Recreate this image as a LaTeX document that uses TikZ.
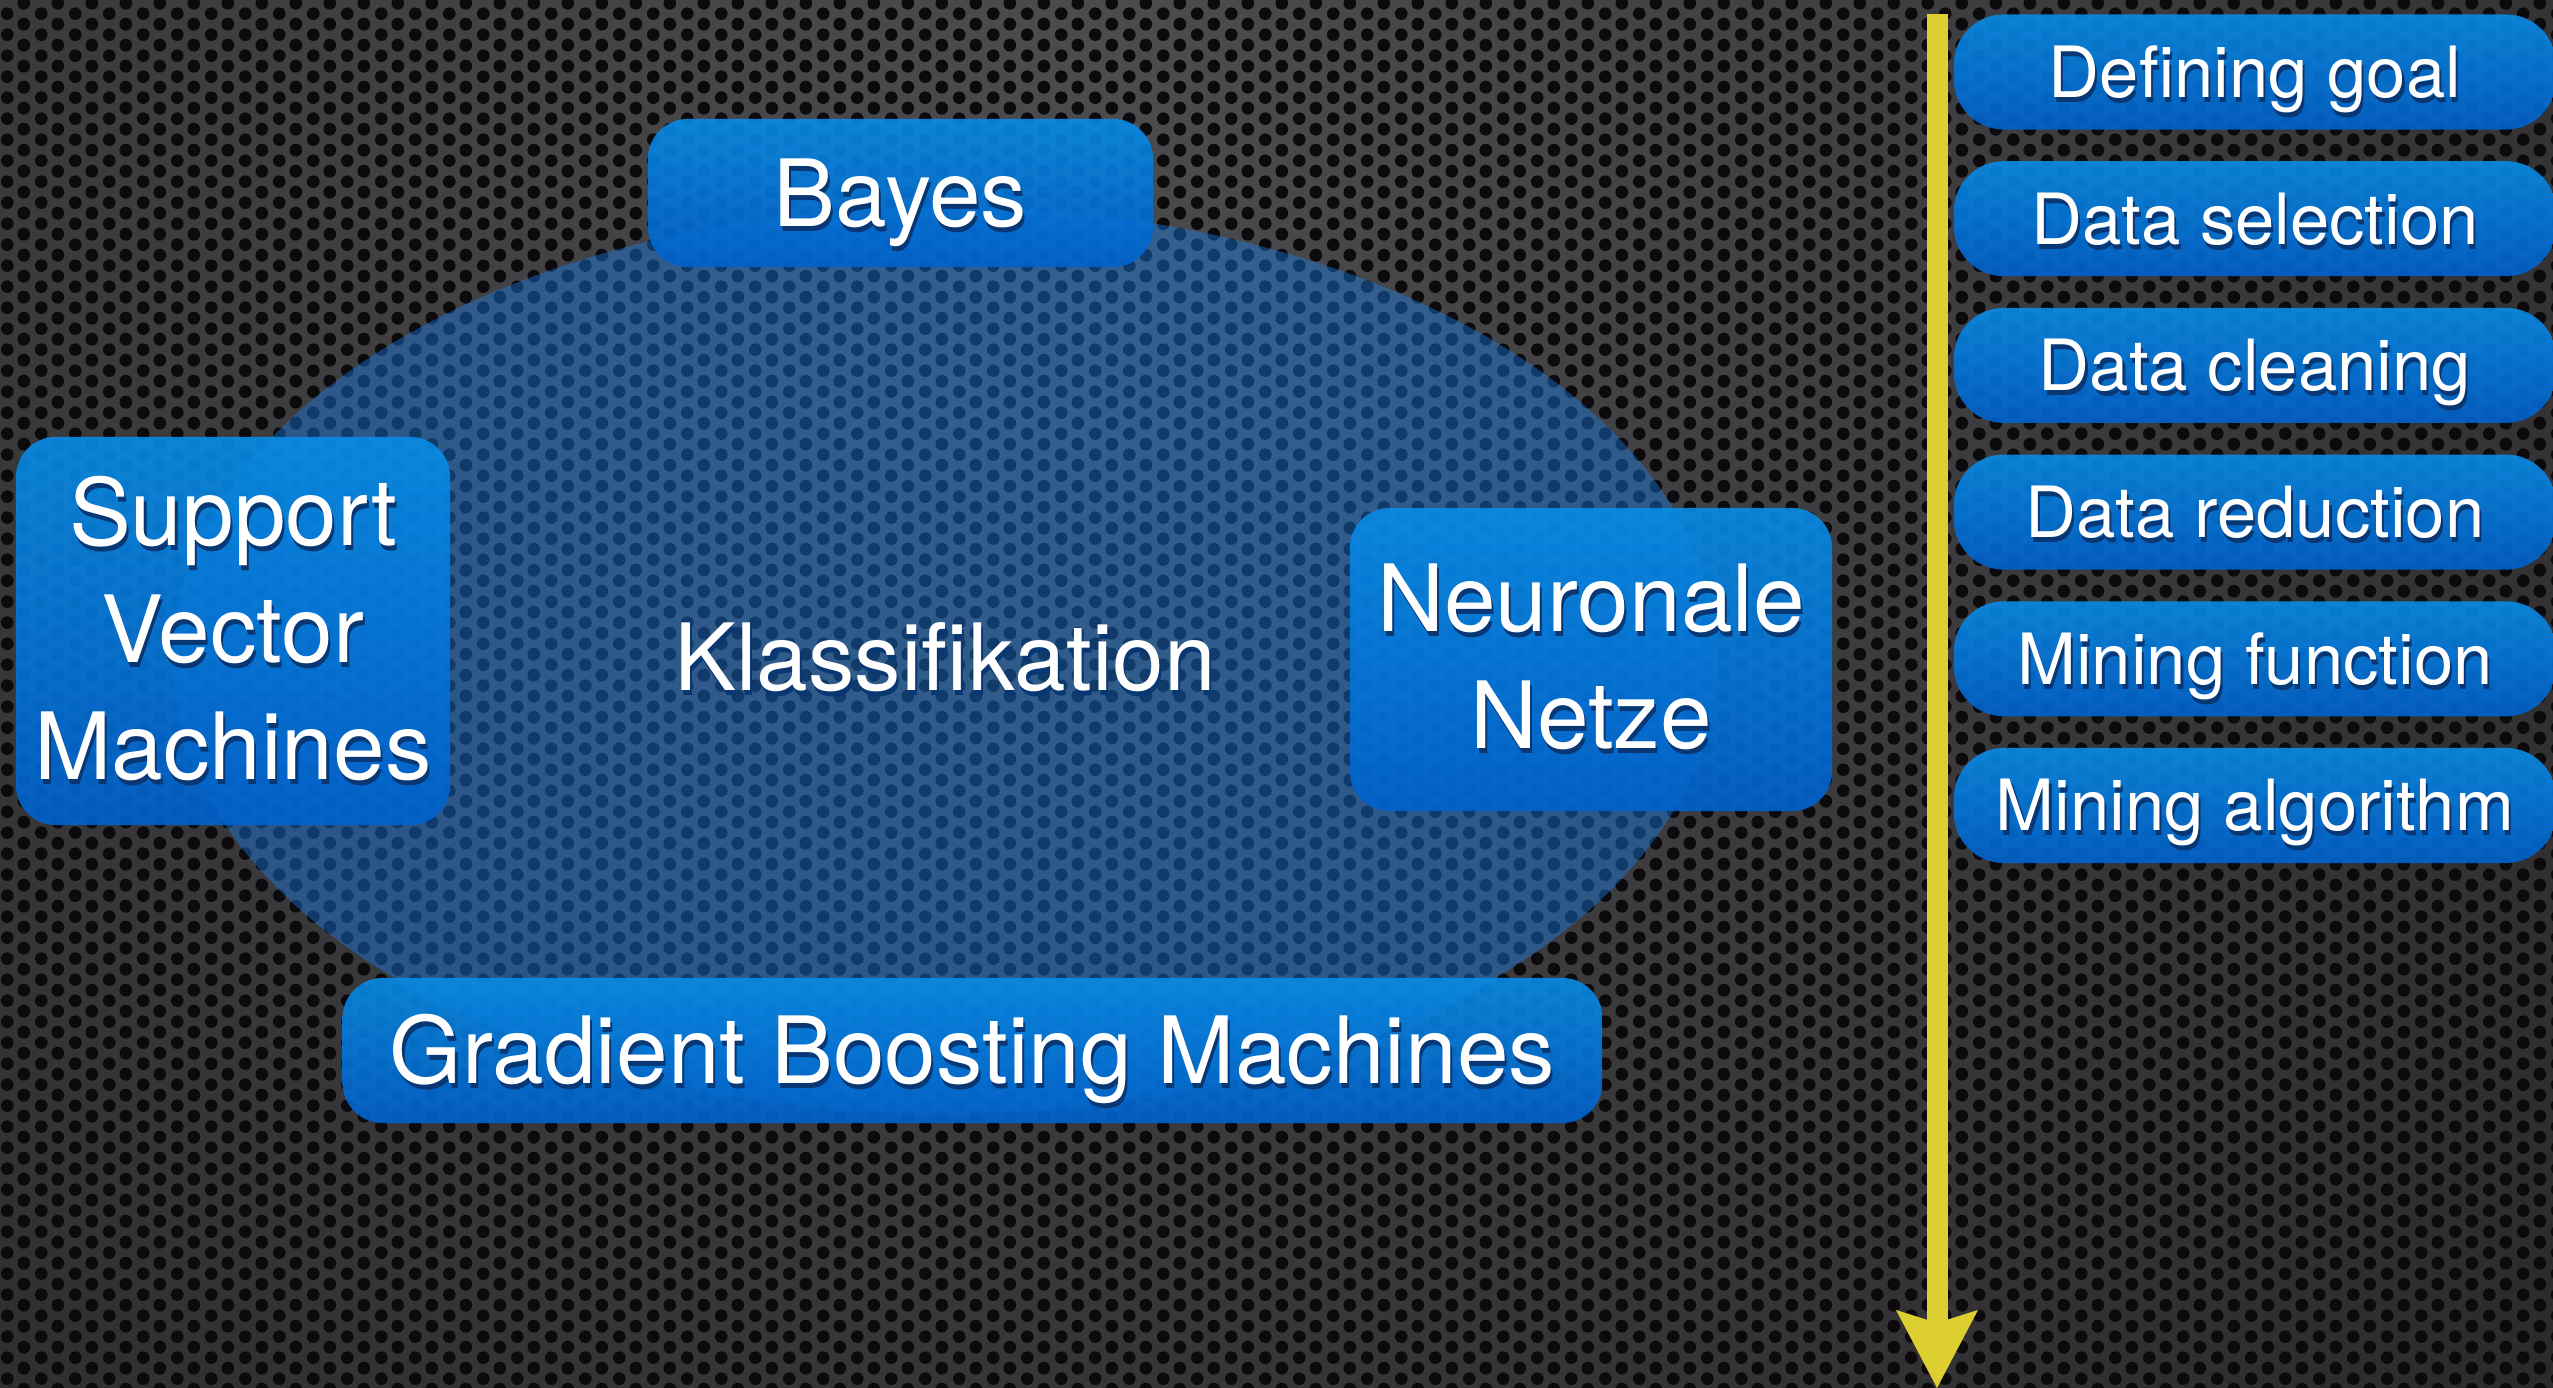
\documentclass[tikz,border=0pt]{standalone}
\usepackage{fontspec}
\setmainfont{TeX Gyre Heros}
\usetikzlibrary{shapes.geometric,arrows.meta,patterns}
\definecolor{meshlight}{RGB}{76,76,79}
\definecolor{meshdark}{RGB}{30,27,30}
\definecolor{holec}{RGB}{12,10,13}
\definecolor{ellc}{RGB}{20,130,245}
\definecolor{boxtop}{RGB}{8,140,230}
\definecolor{boxbot}{RGB}{0,98,205}
\definecolor{shadowc}{RGB}{8,55,115}
\definecolor{arrowc}{RGB}{222,207,48}
\pgfdeclarepatternformonly{hexholes}{\pgfpointorigin}{\pgfpoint{9.674pt}{6.06pt}}{\pgfpoint{9.674pt}{6.06pt}}{%
  \pgfpathcircle{\pgfpoint{2.419pt}{3.03pt}}{1.85pt}%
  \pgfpathcircle{\pgfpoint{7.256pt}{0pt}}{1.85pt}%
  \pgfpathcircle{\pgfpoint{7.256pt}{6.06pt}}{1.85pt}%
  \pgfusepath{fill}}
\newcommand\shd[1]{\makebox[0pt][l]{\hspace{0.6pt}\raisebox{-1.4pt}{\textcolor{shadowc}{#1}}}#1}
\newcommand\bigf{\fontsize{26.4}{33.3}\selectfont}
\newcommand\smallf{\fontsize{20.1}{24}\selectfont}
\tikzset{
  bluebox/.style={rounded corners=0.4cm, top color=boxtop, bottom color=boxbot,
    fill opacity=0.9, text opacity=1, text=white, align=center, inner sep=0pt, font=\bigf},
  oneline/.style={text height=19pt, text depth=0pt},
  stepbox/.style={bluebox, rounded corners=0.5cm, font=\smallf, text height=14.5pt,
    text depth=0pt, minimum width=6.02cm, minimum height=1.15cm},
  klassell/.style={ellipse, minimum width=15.44cm, minimum height=9.06cm, fill=ellc,
    fill opacity=0.4, text opacity=1, inner sep=0pt, text=white, font=\bigf},
  flow/.style={arrowc, line width=0.21cm,
    -{Stealth[length=0.78cm, width=0.82cm, inset=0.13cm, line width=0pt]}}
}
\begin{document}
\begin{tikzpicture}[x=0.01cm, y=-0.01cm]
\useasboundingbox (0,0) rectangle (2553,1388);
% background
\fill[meshdark] (0,0) rectangle (2553,1388);
\begin{scope}
  \clip (0,0) rectangle (2553,1388);
  \shade[inner color=meshlight, outer color=meshdark] (1100,60) circle (28cm);
\end{scope}
\fill[pattern=hexholes, pattern color=holec] (0,0) rectangle (2553,1388);
% ellipse
\node[klassell] (klass) at (945,660) {\shd{Klassifikation}};
% boxes
\node[bluebox, oneline, minimum width=5.05cm, minimum height=1.48cm] (bayes) at (900.5,193) {\shd{Bayes}};
\node[bluebox, minimum width=4.34cm, minimum height=3.88cm] (svm) at (233,631) {\shd{Support}\\\shd{Vector}\\\shd{Machines}};
\node[bluebox, minimum width=4.82cm, minimum height=3.03cm] (nn) at (1591,659.5) {\shd{Neuronale}\\\shd{Netze}};
\node[bluebox, oneline, minimum width=12.59cm, minimum height=1.45cm] (gbm) at (972.5,1050.5) {\shd{Gradient Boosting Machines}};
% arrow
\coordinate (atop) at (1937,14);
\coordinate (abot) at (1937,1388);
\draw[flow] (atop) -- (abot);
% steps
\foreach \i/\t in {0/Defining goal, 1/Data selection, 2/Data cleaning, 3/Data reduction, 4/Mining function, 5/Mining algorithm}
  \node[stepbox] (s\i) at (2255,{72+146.7*\i}) {\shd{\t}};
\end{tikzpicture}
\end{document}
